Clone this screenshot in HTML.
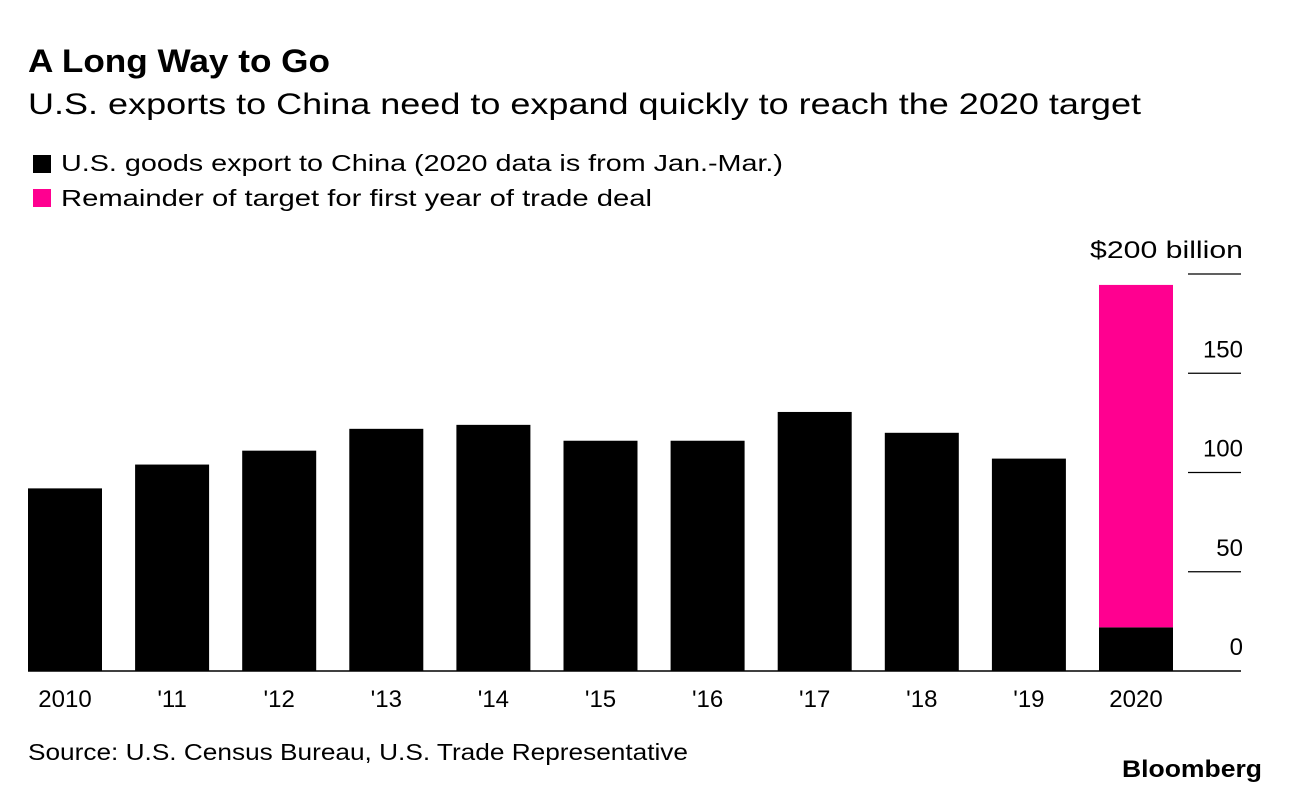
<!DOCTYPE html>
<html><head><meta charset="utf-8"><style>
body{margin:0;background:#fff;font-family:"Liberation Sans",sans-serif;}
svg text{font-family:"Liberation Sans",sans-serif;}
</style></head><body>
<svg id="chart" width="1289" height="792">
<text x="28" y="72" font-size="32" font-weight="bold" fill="#000" textLength="302" lengthAdjust="spacingAndGlyphs">A Long Way to Go</text>
<text x="28" y="114" font-size="30" fill="#000" textLength="1113" lengthAdjust="spacingAndGlyphs">U.S. exports to China need to expand quickly to reach the 2020 target</text>
<rect x="33" y="155" width="18" height="18" fill="#000"/>
<text x="61" y="171" font-size="23" textLength="722" lengthAdjust="spacingAndGlyphs">U.S. goods export to China (2020 data is from Jan.-Mar.)</text>
<rect x="33" y="189" width="18" height="18" fill="#ff0090"/>
<text x="61" y="206" font-size="23" textLength="591" lengthAdjust="spacingAndGlyphs">Remainder of target for first year of trade deal</text>
<g id="grid"></g><g id="bars"></g><g id="xlabels"></g>
<text x="28" y="760" font-size="23" textLength="660" lengthAdjust="spacingAndGlyphs">Source: U.S. Census Bureau, U.S. Trade Representative</text>
<text x="1262" y="777" font-size="24" font-weight="bold" text-anchor="end" textLength="140" lengthAdjust="spacingAndGlyphs">Bloomberg</text>
</svg>
<script>
const categories=["2010","'11","'12","'13","'14","'15","'16","'17","'18","'19","2020"];
const exportsValues=[92,104,111,122,124,116,116,130.5,120,107,22];
const remainderValues=[0,0,0,0,0,0,0,0,0,0,172.5];
const tickValues=[0,50,100,150,200];
const tickLabels=["0","50","100","150","$200 billion"];
const NS="http://www.w3.org/2000/svg";
const y0=671,ppu=1.985;
function y(v){return y0-v*ppu;}
function x(i){return 28+i*107.1;}
const bw=74;
function mk(tag,attrs,parent){const e=document.createElementNS(NS,tag);for(const k in attrs)e.setAttribute(k,attrs[k]);parent.appendChild(e);return e;}
const grid=document.getElementById('grid'),bars=document.getElementById('bars'),xl=document.getElementById('xlabels');
tickValues.forEach((t,i)=>{
 if(t>0){const l=mk('line',{x1:1188,x2:1241,y1:y(t),y2:y(t),stroke:'#000','stroke-width':1.3},grid);
 
 }
 const attrs={x:1243,y:y(t)-16,'font-size':24,'text-anchor':'end'};
 if(t===200){attrs.textLength=153;attrs.lengthAdjust='spacingAndGlyphs';}
 const tx=mk('text',attrs,grid);
 tx.textContent=tickLabels[i];
 
 
});
categories.forEach((c,i)=>{
 const b=mk('rect',{x:x(i),y:y(exportsValues[i]),width:bw,height:exportsValues[i]*ppu,fill:'#000'},bars);
 
 
 if(remainderValues[i]>0){
  const r=mk('rect',{x:x(i),y:y(exportsValues[i]+remainderValues[i]),width:bw,height:remainderValues[i]*ppu,fill:'#ff0090'},bars);
  
  
 }
 const t=mk('text',{x:x(i)+bw/2,y:707,'font-size':24,'text-anchor':'middle'},xl);
 t.textContent=c;
 
 
});
const base=mk('line',{x1:28,x2:1241,y1:y0,y2:y0,stroke:'#000','stroke-width':1.5},bars);


</script>
</body></html>
